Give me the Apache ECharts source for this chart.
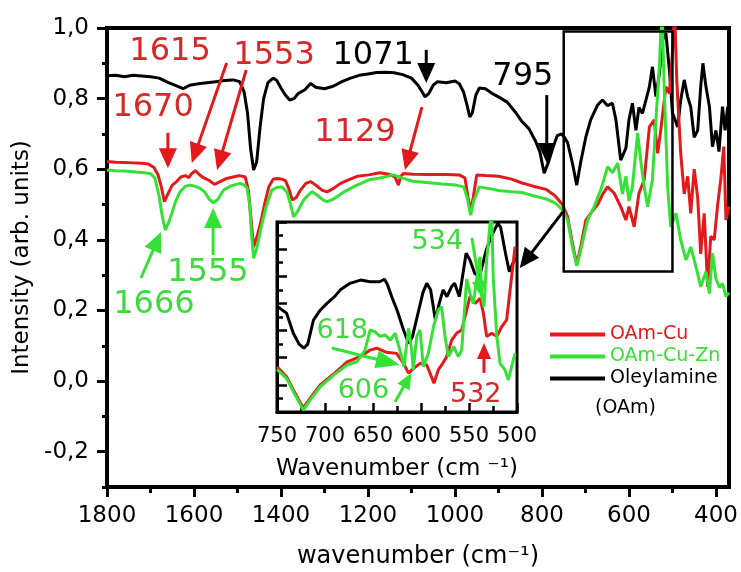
<!DOCTYPE html>
<html>
<head>
<meta charset="utf-8">
<script src="https://cdn.jsdelivr.net/npm/echarts@6/dist/echarts.min.js"></script>
<style>
  html, body { margin: 0; padding: 0; background: #fff; }
  #chart { width: 741px; height: 572px; }
</style>
</head>
<body>
<div id="chart"></div>
<script>
// FTIR spectra, [wavenumber (cm-1), intensity (arb. units)]
const oleylamine = [
  [1800,0.865],[1780,0.866],[1760,0.862],[1740,0.866],[1720,0.864],[1700,0.862],[1680,0.858],
  [1660,0.846],[1640,0.836],[1625,0.828],[1610,0.838],[1590,0.842],[1570,0.845],[1550,0.848],
  [1530,0.851],[1510,0.853],[1495,0.848],[1485,0.82],[1477,0.76],[1470,0.66],[1463,0.598],
  [1456,0.62],[1448,0.72],[1440,0.80],[1430,0.845],[1418,0.858],[1410,0.852],[1400,0.83],
  [1390,0.81],[1380,0.796],[1370,0.80],[1360,0.815],[1345,0.825],[1332,0.843],[1320,0.832],
  [1300,0.828],[1280,0.835],[1260,0.848],[1240,0.858],[1220,0.866],[1200,0.870],[1180,0.874],
  [1160,0.875],[1140,0.873],[1120,0.868],[1100,0.858],[1085,0.838],[1075,0.818],[1069,0.805],
  [1060,0.815],[1050,0.838],[1040,0.848],[1020,0.845],[1000,0.850],[990,0.842],[980,0.818],
  [972,0.78],[966,0.748],[960,0.76],[952,0.81],[944,0.830],[930,0.828],[915,0.815],[900,0.805],
  [880,0.79],[860,0.76],[846,0.735],[830,0.715],[815,0.68],[805,0.65],[795,0.589],[785,0.62],
  [775,0.66],[765,0.695],[755,0.70],[748,0.69],[741,0.675],[730,0.617],[720,0.555],[711,0.62],
  [699,0.692],[688,0.74],[672,0.782],[661,0.796],[649,0.78],[638,0.787],[630,0.74],[619,0.626],
  [607,0.66],[600,0.74],[592,0.787],[584,0.71],[577,0.775],[569,0.758],[561,0.796],[553,0.834],
  [546,0.89],[538,0.806],[530,0.872],[523,0.966],[515,0.985],[507,0.88],[500,0.76],[496,0.758],
  [488,0.72],[481,0.796],[473,0.853],[465,0.805],[458,0.777],[450,0.69],[442,0.71],[435,0.834],
  [430,0.90],[423,0.834],[415,0.777],[408,0.664],[400,0.71],[393,0.65],[385,0.777],[379,0.71],
  [373,0.777],[370,0.74]
];
const oamCu = [
  [1800,0.622],[1780,0.620],[1760,0.619],[1740,0.618],[1720,0.617],[1705,0.615],[1692,0.605],
  [1683,0.585],[1675,0.55],[1668,0.508],[1660,0.53],[1650,0.555],[1640,0.565],[1630,0.578],
  [1620,0.582],[1612,0.576],[1605,0.588],[1597,0.596],[1588,0.585],[1578,0.576],[1565,0.568],
  [1553,0.557],[1540,0.565],[1525,0.574],[1510,0.578],[1495,0.582],[1482,0.578],[1475,0.54],
  [1470,0.475],[1463,0.38],[1455,0.41],[1447,0.447],[1438,0.50],[1428,0.55],[1418,0.572],
  [1409,0.574],[1398,0.572],[1390,0.568],[1382,0.545],[1374,0.513],[1365,0.52],[1355,0.541],
  [1343,0.56],[1332,0.565],[1320,0.555],[1305,0.54],[1294,0.536],[1280,0.545],[1263,0.56],
  [1245,0.57],[1225,0.58],[1198,0.584],[1173,0.59],[1150,0.585],[1138,0.578],[1130,0.555],
  [1125,0.58],[1118,0.588],[1097,0.586],[1060,0.585],[1020,0.585],[990,0.584],[977,0.575],
  [970,0.52],[964,0.484],[958,0.52],[950,0.584],[930,0.582],[900,0.58],[870,0.572],[846,0.561],
  [820,0.552],[791,0.543],[770,0.525],[753,0.50],[741,0.465],[730,0.39],[720,0.33],[711,0.38],
  [699,0.456],[685,0.48],[672,0.50],[660,0.53],[649,0.55],[634,0.532],[619,0.494],[607,0.456],
  [600,0.494],[588,0.437],[577,0.532],[565,0.57],[553,0.72],[542,0.74],[534,0.645],[527,0.71],
  [515,0.834],[507,0.815],[500,0.93],[495,1.05],[490,0.85],[481,0.645],[473,0.53],[465,0.58],
  [458,0.475],[450,0.60],[442,0.52],[435,0.36],[427,0.475],[419,0.267],[412,0.41],[404,0.40],
  [396,0.50],[389,0.57],[382,0.664],[377,0.456],[370,0.495]
];
const oamCuZn = [
  [1800,0.598],[1780,0.596],[1760,0.595],[1740,0.593],[1720,0.591],[1700,0.588],[1690,0.575],
  [1680,0.522],[1672,0.46],[1666,0.428],[1658,0.45],[1651,0.475],[1642,0.51],[1632,0.536],
  [1620,0.552],[1609,0.555],[1598,0.552],[1586,0.546],[1575,0.535],[1565,0.515],[1555,0.505],
  [1545,0.515],[1532,0.541],[1515,0.553],[1494,0.56],[1484,0.555],[1478,0.546],[1472,0.50],
  [1468,0.42],[1463,0.348],[1455,0.38],[1447,0.428],[1435,0.49],[1421,0.541],[1410,0.548],
  [1398,0.55],[1386,0.535],[1378,0.50],[1371,0.465],[1362,0.48],[1348,0.513],[1335,0.53],
  [1328,0.536],[1315,0.525],[1302,0.512],[1294,0.508],[1280,0.515],[1268,0.525],[1255,0.536],
  [1230,0.552],[1198,0.57],[1173,0.575],[1141,0.584],[1120,0.575],[1097,0.566],[1060,0.562],
  [1030,0.558],[998,0.555],[980,0.55],[972,0.52],[964,0.47],[957,0.51],[944,0.55],[920,0.545],
  [900,0.54],[870,0.536],[846,0.534],[820,0.525],[791,0.516],[770,0.505],[753,0.485],[741,0.456],
  [730,0.38],[720,0.326],[711,0.37],[695,0.456],[680,0.494],[665,0.541],[649,0.607],[638,0.59],
  [626,0.617],[615,0.53],[607,0.58],[600,0.51],[592,0.55],[580,0.702],[573,0.625],[565,0.55],
  [557,0.494],[546,0.57],[538,0.74],[530,0.89],[527,0.985],[523,1.02],[519,0.83],[511,0.55],
  [504,0.437],[492,0.475],[481,0.40],[469,0.343],[458,0.38],[446,0.324],[435,0.267],[423,0.31],
  [415,0.248],[408,0.362],[400,0.29],[392,0.265],[385,0.277],[377,0.24],[370,0.25]
];

// Close-up of the 750-500 cm-1 region
const insetOleylamine = [
  [750,0.69],[740,0.664],[733,0.59],[727,0.55],[722,0.535],[718,0.55],[712,0.639],[705,0.675],
  [698,0.70],[690,0.725],[684,0.75],[674,0.774],[663,0.786],[653,0.78],[643,0.78],[638,0.789],
  [635,0.77],[630,0.72],[625,0.676],[618,0.60],[613,0.553],[609,0.576],[604,0.651],[598,0.74],
  [594,0.774],[590,0.75],[585,0.639],[581,0.70],[577,0.75],[573,0.725],[568,0.763],[565,0.774],
  [560,0.725],[553,0.885],[549,0.86],[544,0.81],[539,0.799],[532,0.897],[527,0.946],[520,0.995],
  [517,0.98],[512,0.885],[508,0.817],[504,0.85],[501,0.87]
];
const insetOamCu = [
  [750,0.467],[740,0.43],[733,0.381],[722.6,0.314],[715.6,0.35],[705,0.40],[691,0.44],[677,0.485],
  [663.5,0.504],[653,0.528],[646,0.535],[636,0.52],[625.4,0.516],[618.4,0.48],[613,0.443],
  [608,0.46],[601,0.479],[594,0.473],[590.6,0.443],[586.5,0.406],[582,0.455],[577.4,0.479],
  [573.3,0.504],[568,0.565],[563,0.59],[557.6,0.602],[552.4,0.676],[549,0.725],[543.7,0.70],
  [538.5,0.719],[535,0.664],[531.6,0.578],[526.4,0.59],[521,0.578],[516,0.614],[510.8,0.639],
  [505.6,0.799],[502,0.909]
];
const insetOamCuZn = [
  [750,0.457],[740,0.424],[733,0.375],[722.6,0.307],[715.6,0.344],[705,0.393],[691,0.436],
  [677,0.473],[667,0.485],[658.3,0.528],[653,0.602],[648,0.596],[642.7,0.578],[637.5,0.584],
  [632,0.565],[627,0.59],[622,0.528],[617.7,0.467],[613,0.608],[609.7,0.528],[608,0.455],
  [604.5,0.578],[601,0.602],[597.6,0.467],[592.4,0.516],[587,0.614],[582,0.676],[578.5,0.688],
  [575,0.578],[571.5,0.504],[566,0.541],[561,0.504],[557.6,0.528],[552.4,0.79],[549,0.737],
  [545.5,0.70],[542,0.79],[538.5,0.872],[536.8,0.725],[534.4,0.688],[531.6,0.86],[528,0.995],
  [526.4,1.04],[524.7,0.79],[521,0.578],[517.7,0.479],[512.5,0.455],[509,0.418],[505.6,0.467],
  [502,0.516]
];

// Axis ticks and labels
const xMajor = [1800,1600,1400,1200,1000,800,600,400];
const xMinor = [1700,1500,1300,1100,900,700,500];
const yMajor = [-0.2,0,0.2,0.4,0.6,0.8,1.0];
const yMinor = [-0.3,-0.1,0.1,0.3,0.5,0.7,0.9];

const RED = '#e3191b';
const GREEN = '#35e135';
const BLACK = '#000000';
const RED_TEXT = '#d62828';
const GREEN_TEXT = '#3fd83f';
const FONT = 'DejaVu Sans';

const chart = echarts.init(document.getElementById('chart'), null, { renderer: 'canvas' });

const commaFmt = v => Number(v).toFixed(1).replace('.', ',');
const plainFmt = v => String(Math.round(v));

function lineSeries(name, data, color, xi, yi, z) {
  return {
    name, type: 'line', data, xAxisIndex: xi, yAxisIndex: yi,
    showSymbol: false, symbol: 'none', clip: true, z,
    lineStyle: { color, width: 3 }, itemStyle: { color },
    emphasis: { disabled: true }
  };
}

chart.setOption({
  animation: false,
  backgroundColor: '#fff',
  textStyle: { fontFamily: FONT },
  grid: [
    { left: 107, top: 28, width: 622, height: 459, outerBoundsMode: 'none', containLabel: false,
      show: true, borderColor: BLACK, borderWidth: 4 },
    { left: 277, top: 222, width: 240, height: 190, outerBoundsMode: 'none', containLabel: false,
      show: true, borderColor: BLACK, borderWidth: 3, backgroundColor: '#fff' }
  ],
  xAxis: [
    {
      type: 'value', gridIndex: 0, min: 370, max: 1800, inverse: true, position: 'bottom',
      axisLine: { show: true, onZero: false, lineStyle: { color: BLACK, width: 4 } },
      axisTick: { show: true, customValues: xMajor, length: 10, lineStyle: { color: BLACK, width: 3 } },
      axisLabel: { customValues: xMajor, formatter: plainFmt, color: BLACK, fontSize: 23, fontFamily: FONT, margin: 18 },
      splitLine: { show: false },
      name: 'wavenumber (cm⁻¹)', nameLocation: 'middle', nameGap: 58,
      nameTextStyle: { color: BLACK, fontSize: 24, fontFamily: FONT }
    },
    {
      type: 'value', gridIndex: 0, min: 370, max: 1800, inverse: true, position: 'bottom',
      axisLine: { show: false, onZero: false },
      axisTick: { show: true, customValues: xMinor, length: 6, lineStyle: { color: BLACK, width: 3 } },
      axisLabel: { show: false }, splitLine: { show: false }
    },
    {
      type: 'value', gridIndex: 1, min: 500, max: 750, interval: 50, inverse: true, position: 'bottom',
      axisLine: { show: true, onZero: false, lineStyle: { color: BLACK, width: 3 } },
      axisTick: { show: true, inside: true, length: 9, lineStyle: { color: BLACK, width: 2.5 } },
      minorTick: { show: true, splitNumber: 2, length: 6, lineStyle: { color: BLACK, width: 2.5 } },
      axisLabel: { formatter: plainFmt, color: BLACK, fontSize: 21, fontFamily: FONT, margin: 14, hideOverlap: false },
      splitLine: { show: false }, minorSplitLine: { show: false },
      name: 'Wavenumber (cm ⁻¹)', nameLocation: 'middle', nameGap: 46,
      nameTextStyle: { color: BLACK, fontSize: 23, fontFamily: FONT }
    }
  ],
  yAxis: [
    {
      type: 'value', gridIndex: 0, min: -0.3, max: 1.0, position: 'left',
      axisLine: { show: true, onZero: false, lineStyle: { color: BLACK, width: 4 } },
      axisTick: { show: true, customValues: yMajor, length: 10, lineStyle: { color: BLACK, width: 3 } },
      axisLabel: { customValues: yMajor, formatter: commaFmt, color: BLACK, fontSize: 23, fontFamily: FONT, margin: 18 },
      splitLine: { show: false },
      name: 'Intensity (arb. units)', nameLocation: 'middle', nameGap: 70,
      nameTextStyle: { color: BLACK, fontSize: 23, fontFamily: FONT }
    },
    {
      type: 'value', gridIndex: 0, min: -0.3, max: 1.0, position: 'left',
      axisLine: { show: false, onZero: false },
      axisTick: { show: true, customValues: yMinor, length: 5, lineStyle: { color: BLACK, width: 3 } },
      axisLabel: { show: false }, splitLine: { show: false }
    },
    {
      type: 'value', gridIndex: 1, min: 0.3, max: 1.0, interval: 0.1, position: 'left',
      axisLine: { show: true, onZero: false, lineStyle: { color: BLACK, width: 3 } },
      axisTick: { show: true, inside: true, length: 10, lineStyle: { color: BLACK, width: 2.5 } },
      minorTick: { show: true, splitNumber: 2, length: 6, lineStyle: { color: BLACK, width: 2.5 } },
      axisLabel: { show: false }, splitLine: { show: false }, minorSplitLine: { show: false }
    }
  ],
  legend: {
    orient: 'vertical', left: 545, top: 320, itemWidth: 55, itemHeight: 4, itemGap: 3,
    icon: 'rect', selectedMode: false,
    textStyle: { fontSize: 19, fontFamily: FONT },
    data: [
      { name: 'OAm-Cu', textStyle: { color: RED } },
      { name: 'OAm-Cu-Zn', textStyle: { color: GREEN } },
      { name: 'Oleylamine', textStyle: { color: BLACK } }
    ]
  },
  series: [
    lineSeries('Oleylamine', oleylamine, BLACK, 0, 0, 2),
    lineSeries('OAm-Cu', oamCu, RED, 0, 0, 3),
    lineSeries('OAm-Cu-Zn', oamCuZn, GREEN, 0, 0, 4),
    lineSeries('Oleylamine', insetOleylamine, BLACK, 2, 2, 6),
    lineSeries('OAm-Cu', insetOamCu, RED, 2, 2, 7),
    lineSeries('OAm-Cu-Zn', insetOamCuZn, GREEN, 2, 2, 8)
  ]
});

// Peak labels and arrows, positioned in data coordinates
const mainLabels = [
  { text: '1615', at: [1655, 0.932], color: RED_TEXT },
  { text: '1553', at: [1416, 0.921], color: RED_TEXT },
  { text: '1071', at: [1188, 0.921], color: BLACK },
  { text: '795',  at: [844, 0.861],  color: BLACK },
  { text: '1670', at: [1694, 0.773], color: RED_TEXT },
  { text: '1129', at: [1230, 0.703], color: RED_TEXT },
  { text: '1666', at: [1692, 0.215], color: GREEN_TEXT },
  { text: '1555', at: [1568, 0.306], color: GREEN_TEXT }
];
const mainArrows = [
  { from: [1660, 0.703], to: [1660, 0.603], color: RED },
  { from: [1525, 0.901], to: [1605, 0.618], color: RED },
  { from: [1480, 0.881], to: [1547, 0.598], color: RED },
  { from: [1066, 0.938], to: [1066, 0.844], color: BLACK },
  { from: [789, 0.810],  to: [789, 0.618],  color: BLACK },
  { from: [1076, 0.776], to: [1115, 0.598], color: RED },
  { from: [1722, 0.292], to: [1676, 0.422], color: GREEN },
  { from: [1556, 0.357], to: [1556, 0.49],  color: GREEN },
  { from: [752, 0.479],  to: [851, 0.320],  color: BLACK }
];
const insetLabels = [
  { text: '534', at: [583, 0.926], color: GREEN_TEXT },
  { text: '618', at: [682, 0.598], color: GREEN_TEXT },
  { text: '606', at: [660, 0.377], color: GREEN_TEXT },
  { text: '532', at: [543, 0.363], color: RED_TEXT }
];
const insetArrows = [
  { from: [693, 0.536], to: [622, 0.473], color: GREEN, big: true },
  { from: [627, 0.337], to: [610, 0.444], color: GREEN },
  { from: [547, 0.941], to: [537, 0.724], color: GREEN },
  { from: [534.4, 0.444], to: [534.4, 0.554], color: RED }
];
// Frame marking the zoomed range on the main plot
const zoomBox = { from: [750, 0.99], to: [500, 0.31] };

function arrowParts(p0, p1, color, width, headLen, headHalf) {
  const dx = p1[0] - p0[0], dy = p1[1] - p0[1];
  const len = Math.hypot(dx, dy);
  const ux = dx / len, uy = dy / len;
  const bx = p1[0] - ux * headLen, by = p1[1] - uy * headLen;
  return [
    { type: 'line', z: 100, shape: { x1: p0[0], y1: p0[1], x2: bx + ux * 2, y2: by + uy * 2 },
      style: { stroke: color, lineWidth: width } },
    { type: 'polygon', z: 100,
      shape: { points: [[p1[0], p1[1]], [bx - uy * headHalf, by + ux * headHalf], [bx + uy * headHalf, by - ux * headHalf]] },
      style: { fill: color } }
  ];
}

function build() {
  const mainPx = p => chart.convertToPixel({ gridIndex: 0 }, p);
  const insetPx = p => chart.convertToPixel({ gridIndex: 1 }, p);
  const g = [];
  mainLabels.forEach(l => {
    const p = mainPx(l.at);
    g.push({ type: 'text', z: 100, x: p[0], y: p[1],
      style: { text: l.text, fill: l.color, fontSize: 32, fontFamily: FONT, align: 'center', verticalAlign: 'middle' } });
  });
  mainArrows.forEach(a => g.push(...arrowParts(mainPx(a.from), mainPx(a.to), a.color, 3, 20, 9)));
  insetLabels.forEach(l => {
    const p = insetPx(l.at);
    g.push({ type: 'text', z: 100, x: p[0], y: p[1],
      style: { text: l.text, fill: l.color, fontSize: 27, fontFamily: FONT, align: 'center', verticalAlign: 'middle' } });
  });
  insetArrows.forEach(a => g.push(...arrowParts(insetPx(a.from), insetPx(a.to), a.color, 3, a.big ? 24 : 16, a.big ? 9 : 7)));
  const b0 = mainPx(zoomBox.from), b1 = mainPx(zoomBox.to);
  g.push({ type: 'rect', z: 90,
    shape: { x: b0[0], y: b0[1], width: b1[0] - b0[0], height: b1[1] - b0[1] },
    style: { fill: 'none', stroke: BLACK, lineWidth: 2.5 } });
  // second line of the oleylamine legend entry
  g.push({ type: 'text', z: 100, left: 595, top: 399,
    style: { text: '(OAm)', fill: BLACK, fontSize: 19, fontFamily: FONT } });
  chart.setOption({ graphic: g });
}
build();
</script>
</body>
</html>
